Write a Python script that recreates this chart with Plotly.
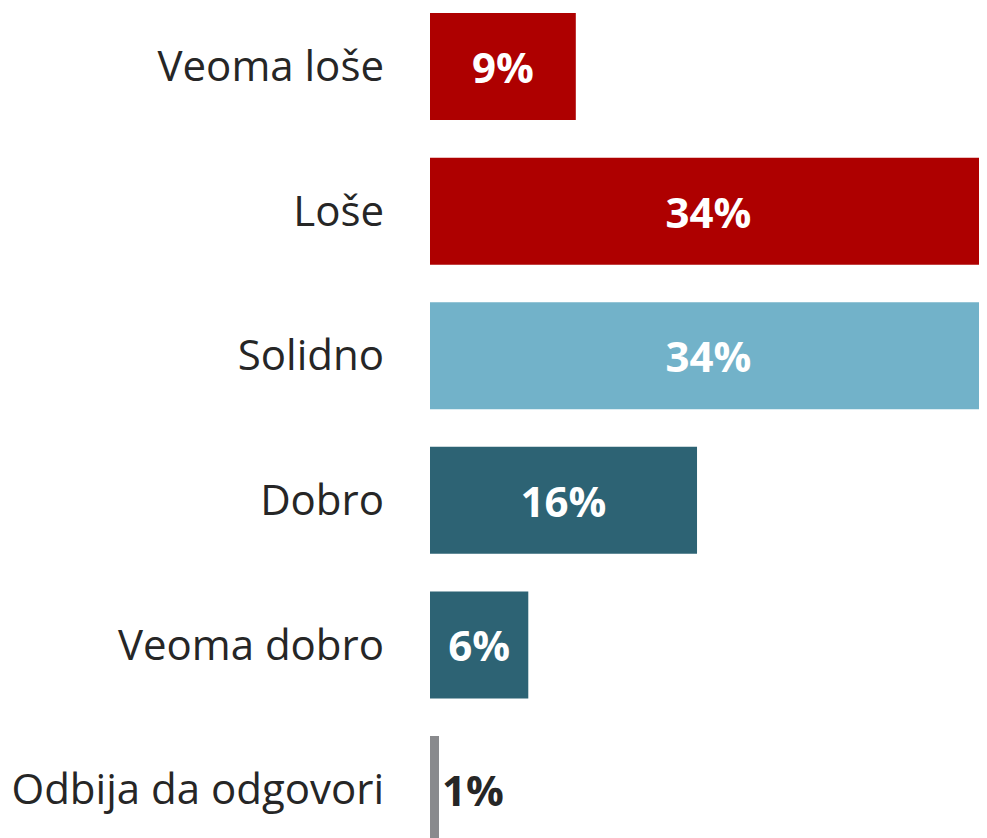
import plotly.graph_objects as go

categories = ["Veoma loše", "Loše", "Solidno", "Dobro", "Veoma dobro", "Odbija da odgovori"]
values = [8.9, 34.0, 34.0, 16.3, 6.0, 0.55]
labels = ["9%", "34%", "34%", "16%", "6%", "1%"]
colors = ["#AE0000", "#AE0000", "#72B2C9", "#2D6374", "#2D6374", "#898A8D"]
text_colors = ["#FFFFFF", "#FFFFFF", "#FFFFFF", "#FFFFFF", "#FFFFFF", "#262626"]
positions = ["inside", "inside", "inside", "inside", "inside", "outside"]

fig = go.Figure(go.Bar(
    y=categories,
    x=values,
    orientation="h",
    marker=dict(color=colors, line=dict(width=0)),
    text=labels,
    textposition=positions,
    insidetextanchor="middle",
    textfont=dict(family="Open Sans", size=42, color=text_colors, weight="bold"),
    cliponaxis=False,
    constraintext="none",
))

fig.update_layout(
    width=979,
    height=830,
    margin=dict(l=422, r=0, t=0, b=0),
    paper_bgcolor="white",
    plot_bgcolor="white",
    bargap=0.26,
    showlegend=False,
)
fig.update_xaxes(range=[0, 34], visible=False, showgrid=False, zeroline=False)
fig.update_yaxes(
    range=[5.335, -0.405],
    showgrid=False,
    zeroline=False,
    showline=False,
    ticks="",
    ticklabelstandoff=45,
    tickfont=dict(family="Open Sans", size=42, color="#262626"),
)

fig.write_html("out.html")
